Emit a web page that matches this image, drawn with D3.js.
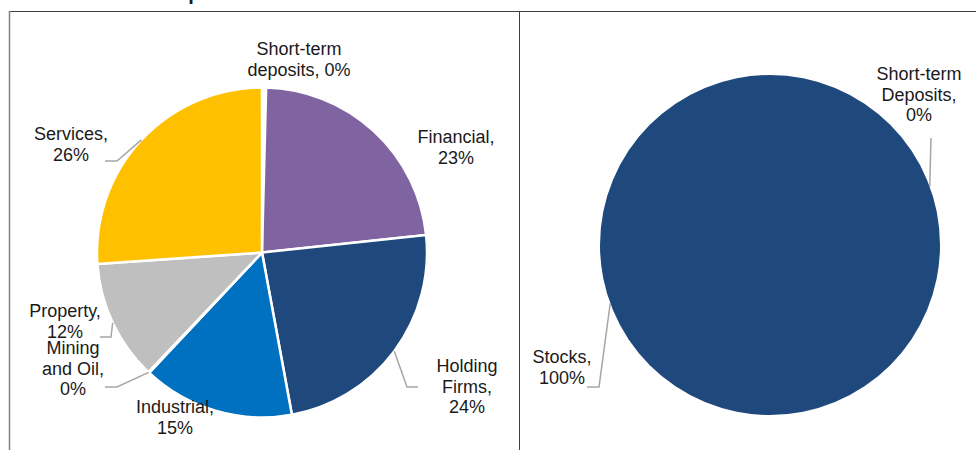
<!DOCTYPE html>
<html>
    <head>
        <meta charset="utf-8">
        <script src="https://cdn.jsdelivr.net/npm/d3@7"></script>
        <style>
            body { margin: 0; background: white; }
            text { font-family: "Liberation Sans", Arial, sans-serif; fill: #1a1a1a; }
        </style>
        <script>
            // left pie: sector split
            var sectorNames  = ["Short-term\ndeposits", "Financial", "Holding\nFirms", "Industrial",
                                "Mining\nand Oil", "Property", "Services"];
            var sectorValues = [0.4, 22.9, 23.8, 14.9, 0.1, 11.8, 26.1];
            var sectorColors = ["#FFFFFF", "#8064A2", "#1F497D", "#0070C0", "#D9D9D9", "#BFBFBF", "#FFC000"];

            // right pie: asset split
            var assetNames  = ["Stocks", "Short-term\nDeposits"];
            var assetValues = [100, 0];
            var assetColors = ["#1F497D", "#FFFFFF"];

            var title = "Sector Composition";

            function drawPie(svg, cfg) {

                var g = svg.append("g")
                           .attr("transform", `translate(${cfg.cx},${cfg.cy})`);

                var pie = d3.pie().sort(null).value(d => d.value);
                var arcs = pie(cfg.names.map((n, i) => ({ name: n, value: cfg.values[i], color: cfg.colors[i] })));

                var arcMkr = d3.arc().innerRadius(0).outerRadius(cfg.r);

                g.selectAll("path.slice")
                 .data(arcs)
                 .enter()
                 .append("path")
                 .attr("class", "slice")
                 .attr("d", arcMkr)
                 .attr("fill", d => d.data.color)
                 .attr("stroke", cfg.stroke ? "white" : "none")
                 .attr("stroke-width", cfg.stroke)
                 .attr("stroke-linejoin", "round");

                // labels + leader lines
                arcs.forEach((a, i) => {
                    var lay = cfg.labels[i];
                    var pct = Math.round(a.data.value) + "%";
                    var parts = a.data.name.split("\n");
                    var last = parts.pop() + ",";
                    var lines = lay.same ? parts.concat([last + " " + pct]) : parts.concat([last, pct]);

                    var t = svg.append("text")
                               .attr("text-anchor", "middle")
                               .attr("font-size", 18);
                    lines.forEach((s, k) => {
                        t.append("tspan")
                         .attr("x", lay.x)
                         .attr("y", lay.y + k * 20.5)
                         .text(s);
                    });

                    if (lay.leader) {
                        var ang = lay.angle !== undefined ? lay.angle * Math.PI / 180 : (a.startAngle + a.endAngle) / 2;
                        var p0 = [cfg.cx + cfg.r * Math.sin(ang), cfg.cy - cfg.r * Math.cos(ang)];
                        svg.append("path")
                           .attr("d", d3.line()([p0].concat(lay.leader)))
                           .attr("fill", "none")
                           .attr("stroke", "#A6A6A6")
                           .attr("stroke-width", 1.5);
                    }
                });
            }

            function makeSVG() {

                var svg = d3.select("#fig");

                const width = +svg.attr("width");
                const height = +svg.attr("height");

                // title, mostly cut off above the frame
                svg.append("text")
                   .attr("x", 76)
                   .attr("y", 0)
                   .attr("font-size", 20)
                   .attr("font-weight", "bold")
                   .text(title);

                // frame
                svg.append("line")
                   .attr("x1", 9).attr("x2", width)
                   .attr("y1", 11.5).attr("y2", 11.5)
                   .attr("stroke", "#404040");
                svg.append("line")
                   .attr("x1", 9.5).attr("x2", 9.5)
                   .attr("y1", 11).attr("y2", height)
                   .attr("stroke", "#808080")
                   .attr("stroke-width", 1.5);
                svg.append("line")
                   .attr("x1", 519.5).attr("x2", 519.5)
                   .attr("y1", 11).attr("y2", height)
                   .attr("stroke", "#404040");

                drawPie(svg, {
                    cx: 262, cy: 252.5, r: 165, stroke: 2.5,
                    names: sectorNames, values: sectorValues, colors: sectorColors,
                    labels: [
                        { x: 299, y: 55, same: true },
                        { x: 456, y: 143 },
                        { x: 467, y: 372, leader: [[407, 387], [418, 387]] },
                        { x: 175, y: 413 },
                        { x: 73, y: 354, leader: [[117, 387], [105, 387]] },
                        { x: 65, y: 317, leader: [[111, 337], [100, 337]] },
                        { x: 71, y: 140, leader: [[117, 161], [105, 161]] }
                    ]
                });

                drawPie(svg, {
                    cx: 770, cy: 245, r: 170, stroke: 0,
                    names: assetNames, values: assetValues, colors: assetColors,
                    labels: [
                        { x: 562, y: 363, angle: 250, leader: [[599, 387], [587, 387]] },
                        { x: 919, y: 80, angle: 70, leader: [[931, 138]] }
                    ]
                });
            }
        </script>
    </head>
    <body onload="makeSVG()">

        <svg id="fig" width="976" height="450"></svg>

    </body>
</html>
